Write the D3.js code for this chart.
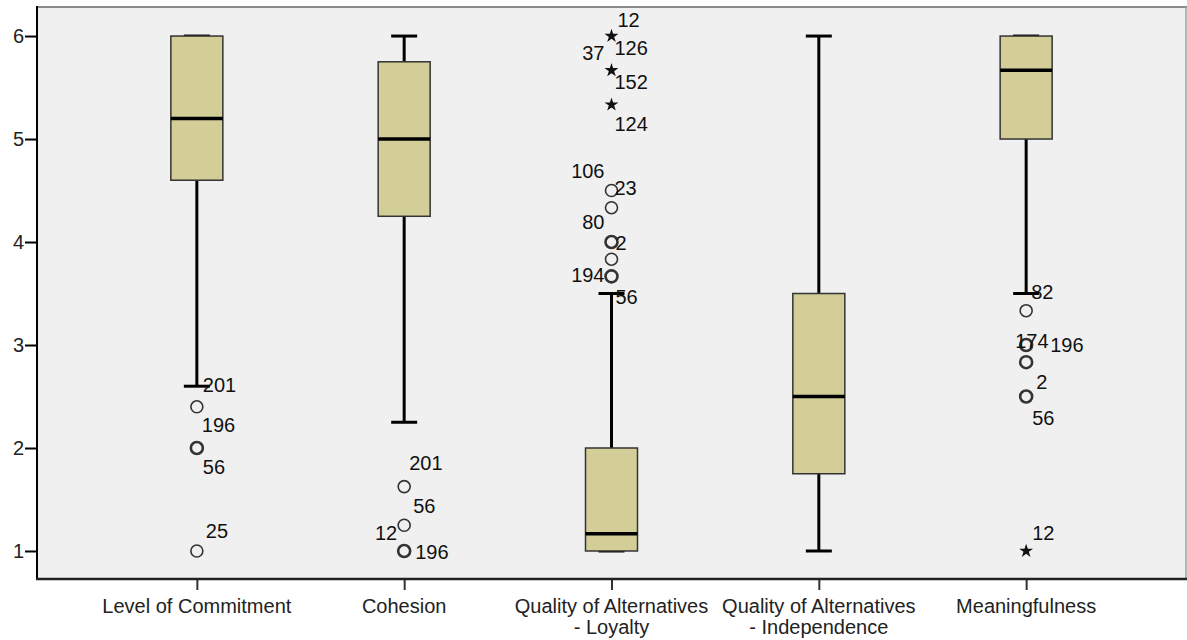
<!DOCTYPE html>
<html>
<head>
<meta charset="utf-8">
<script src="https://cdn.jsdelivr.net/npm/d3@7"></script>
<style>
  html, body { margin: 0; padding: 0; background: #ffffff; }
  svg { display: block; font-family: "Liberation Sans", Arial, sans-serif; }
</style>
</head>
<body>
<svg id="chart" width="1187" height="640"></svg>
<script>
// ---------------- DATA ----------------
const categories = [
  "Level of Commitment",
  "Cohesion",
  "Quality of Alternatives\n- Loyalty",
  "Quality of Alternatives\n- Independence",
  "Meaningfulness"
];
const lowerWhisker = [2.6, 2.25, 1.0, 1.0, 3.5];
const q1Values     = [4.6, 4.25, 1.0, 1.75, 5.0];
const medians      = [5.2, 5.0, 1.1667, 2.5, 5.6667];
const q3Values     = [6.0, 5.75, 2.0, 3.5, 6.0];
const upperWhisker = [6.0, 6.0, 3.5, 6.0, 6.0];

// outliers: [categoryIndex, value, type ("o" circle, "*" extreme), multiplicity]
const outliers = [
  [0, 2.4, "o", 1], [0, 2.0, "o", 2], [0, 1.0, "o", 1],
  [1, 1.625, "o", 1], [1, 1.25, "o", 1], [1, 1.0, "o", 2],
  [2, 6.0, "*", 2], [2, 5.6667, "*", 1], [2, 5.3333, "*", 1],
  [2, 4.5, "o", 1], [2, 4.3333, "o", 1], [2, 4.0, "o", 2],
  [2, 3.8333, "o", 1], [2, 3.6667, "o", 2],
  [4, 3.3333, "o", 1], [4, 3.0, "o", 2], [4, 2.8333, "o", 2],
  [4, 2.5, "o", 2], [4, 1.0, "*", 1]
];

// case-number labels: [categoryIndex, value anchor, text]
const caseLabels = [
  [0, 2.6, "201"], [0, 2.4, "196"], [0, 2.0, "56"], [0, 1.0, "25"],
  [1, 1.625, "201"], [1, 1.25, "56"], [1, 1.25, "12"], [1, 1.0, "196"],
  [2, 6.0, "12"], [2, 6.0, "37"], [2, 6.0, "126"], [2, 5.6667, "152"], [2, 5.3333, "124"],
  [2, 4.5, "106"], [2, 4.5, "23"], [2, 4.3333, "80"], [2, 4.0, "2"],
  [2, 3.8333, "194"], [2, 3.5, "56"],
  [4, 3.5, "82"], [4, 3.0, "174"], [4, 3.0, "196"], [4, 2.5, "2"], [4, 2.5, "56"], [4, 1.0, "12"]
];
// label placement offsets in px relative to the point: [dx, dy, anchor]
const labelOffsets = [
  [6, -1, "start"], [5, 18, "start"], [6, 19, "start"], [9, -20, "start"],
  [5, -24, "start"], [9, -19, "start"], [-7, 8, "end"], [11, 1, "start"],
  [6, -16, "start"], [-7, 17, "end"], [3, 12, "start"], [3, 12, "start"], [3, 19, "start"],
  [-7, -20, "end"], [3, -3, "start"], [-7, 14, "end"], [4, 1, "start"],
  [-7, 16, "end"], [4, 3, "start"],
  [5, -2, "start"], [-11, -4, "start"], [24, 0, "start"], [10, -15, "start"], [6, 21, "start"], [6, -18, "start"]
];

const yTicks = [1, 2, 3, 4, 5, 6];

// ---------------- LAYOUT ----------------
const svg = d3.select("#chart");
const plot = { left: 37, right: 1186, top: 7, bottom: 579 };

const y = d3.scaleLinear().domain([0.728, 6.282]).range([plot.bottom, plot.top]);
const x = d3.scalePoint().domain(d3.range(categories.length)).range([plot.left, plot.right]).padding(0.771);

const boxW = 52, capW = 26;
const fillColor = "#d3ce97";

// plot background
svg.append("rect")
  .attr("x", plot.left).attr("y", plot.top)
  .attr("width", plot.right - plot.left).attr("height", plot.bottom - plot.top)
  .attr("fill", "#f0f0f0");

// top & right borders
svg.append("line").attr("x1", plot.left).attr("x2", plot.right + 1)
  .attr("y1", plot.top).attr("y2", plot.top)
  .attr("stroke", "#8a8a8a").attr("stroke-width", 2);
svg.append("line").attr("x1", plot.right).attr("x2", plot.right)
  .attr("y1", plot.top).attr("y2", plot.bottom)
  .attr("stroke", "#a0a0a0").attr("stroke-width", 1.5);

// boxes
const g = svg.append("g");
categories.forEach((c, i) => {
  const cx = x(i);
  // whiskers
  g.append("line").attr("x1", cx).attr("x2", cx)
    .attr("y1", y(q3Values[i])).attr("y2", y(upperWhisker[i]))
    .attr("stroke", "#000").attr("stroke-width", 3);
  g.append("line").attr("x1", cx).attr("x2", cx)
    .attr("y1", y(q1Values[i])).attr("y2", y(lowerWhisker[i]))
    .attr("stroke", "#000").attr("stroke-width", 3);
  // caps
  [upperWhisker[i], lowerWhisker[i]].forEach(v => {
    g.append("line").attr("x1", cx - capW / 2).attr("x2", cx + capW / 2)
      .attr("y1", y(v)).attr("y2", y(v))
      .attr("stroke", "#000").attr("stroke-width", 3);
  });
  // box
  g.append("rect")
    .attr("x", cx - boxW / 2).attr("y", y(q3Values[i]))
    .attr("width", boxW).attr("height", y(q1Values[i]) - y(q3Values[i]))
    .attr("fill", fillColor).attr("stroke", "#333").attr("stroke-width", 1.5);
  // median
  g.append("line").attr("x1", cx - boxW / 2).attr("x2", cx + boxW / 2)
    .attr("y1", y(medians[i])).attr("y2", y(medians[i]))
    .attr("stroke", "#000").attr("stroke-width", 3.5);
});

// outliers
const star = d3.symbol().type(d3.symbolStar).size(60);
outliers.forEach(([ci, v, t, n]) => {
  const cx = x(ci), cy = y(v);
  if (t === "o") {
    g.append("circle").attr("cx", cx).attr("cy", cy).attr("r", 6)
      .attr("fill", "none").attr("stroke", "#333").attr("stroke-width", n > 1 ? 2.6 : 1.6);
  } else {
    g.append("path").attr("d", star()).attr("transform", `translate(${cx},${cy})`)
      .attr("fill", "#111");
  }
});

// case labels
caseLabels.forEach(([ci, v, txt], k) => {
  const [dx, dy, anchor] = labelOffsets[k];
  g.append("text")
    .attr("x", x(ci) + dx).attr("y", y(v) + dy)
    .attr("dy", "0.35em")
    .attr("text-anchor", anchor)
    .attr("font-size", 20).attr("fill", "#111")
    .text(txt);
});

// y axis
const yAxis = d3.axisLeft(y).tickValues(yTicks).tickSize(12).tickPadding(1).tickFormat(d3.format("d"));
const ya = svg.append("g").attr("transform", `translate(${plot.left},0)`).call(yAxis);
ya.select(".domain").remove();
ya.selectAll(".tick line").attr("stroke", "#000").attr("stroke-width", 2);
ya.selectAll(".tick text").attr("font-size", 20).attr("fill", "#222")
  .attr("font-family", "'Liberation Sans', Arial, sans-serif");
svg.append("line").attr("x1", plot.left).attr("x2", plot.left)
  .attr("y1", plot.top - 1).attr("y2", plot.bottom + 1)
  .attr("stroke", "#000").attr("stroke-width", 2);

// x axis
const xAxis = d3.axisBottom(x).tickSize(11).tickFormat(() => "");
const xa = svg.append("g").attr("transform", `translate(0,${plot.bottom})`).call(xAxis);
xa.select(".domain").remove();
xa.selectAll(".tick line").attr("stroke", "#333").attr("stroke-width", 2);
svg.append("line").attr("x1", plot.left - 1).attr("x2", plot.right + 1)
  .attr("y1", plot.bottom).attr("y2", plot.bottom)
  .attr("stroke", "#222").attr("stroke-width", 2.5);

categories.forEach((c, i) => {
  const lines = c.split("\n");
  const t = svg.append("text")
    .attr("x", x(i)).attr("y", plot.bottom + 34)
    .attr("text-anchor", "middle").attr("font-size", 20).attr("fill", "#222");
  lines.forEach((ln, j) => {
    t.append("tspan").attr("x", x(i)).attr("dy", j === 0 ? 0 : 21).text(ln);
  });
});
</script>
</body>
</html>
